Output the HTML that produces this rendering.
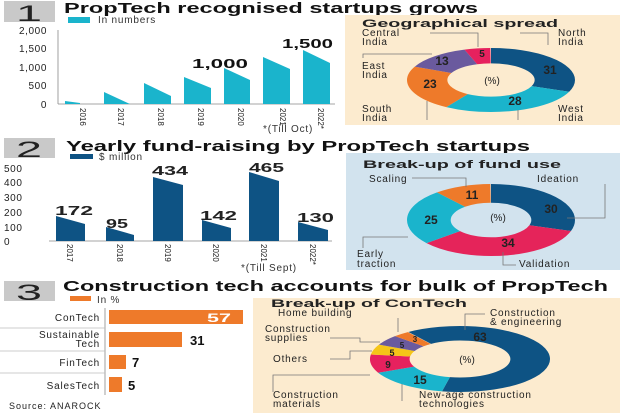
<!DOCTYPE html>
<html><head><meta charset="utf-8"><style>
html,body{margin:0;padding:0;background:#fff}
svg{display:block}
text{font-family:"Liberation Sans",sans-serif;fill:#222}
.t{font-weight:bold;font-size:15px;fill:#111}
.ax{font-size:10px;fill:#333;letter-spacing:0.6px}
.lb{font-size:10px;fill:#333;letter-spacing:0.8px}
.v{font-weight:bold;font-size:13px;fill:#111}
.dn{font-weight:bold;font-size:12px;fill:#fff}
.ln{stroke:#777;stroke-width:0.8;fill:none}
</style></head><body>
<svg width="620" height="413" viewBox="0 0 620 413" xmlns="http://www.w3.org/2000/svg">
<rect width="620" height="413" fill="#fff"/>

<!-- SECTION 1 -->
<rect x="4" y="1" width="51" height="21" fill="#c9c9c9"/>
<text x="16" y="21" font-size="22" fill="#222" textLength="26" lengthAdjust="spacingAndGlyphs">1</text>
<text class="t" x="64" y="13" textLength="414" lengthAdjust="spacingAndGlyphs">PropTech recognised startups grows</text>
<rect x="68" y="17" width="22" height="6" fill="#1ab4cc"/>
<text class="lb" x="98" y="23">In numbers</text>
<g class="ax" text-anchor="end">
<text x="47" y="34">2,000</text><text x="47" y="52">1,500</text><text x="47" y="71">1,000</text><text x="47" y="89">500</text><text x="47" y="108">0</text>
</g>
<line x1="58" y1="30" x2="58" y2="104" stroke="#888" stroke-width="0.8"/>
<line x1="58" y1="104" x2="335" y2="104" stroke="#888" stroke-width="0.8"/>
<g fill="#1ab4cc">
<polygon points="65,101 80,103 80,104 65,104"/>
<polygon points="104,92 130,104 104,104"/>
<polygon points="144,83 171,96 171,104 144,104"/>
<polygon points="184,77 211,88 211,104 184,104"/>
<polygon points="224,68 250,80 250,104 224,104"/>
<polygon points="263,57 290,69 290,104 263,104"/>
<polygon points="303,50 330,63 330,104 303,104"/>
</g>
<text class="v" x="192" y="68" textLength="56" lengthAdjust="spacingAndGlyphs">1,000</text>
<text class="v" x="282" y="48" textLength="51" lengthAdjust="spacingAndGlyphs">1,500</text>
<g font-size="8" fill="#333">
<text transform="translate(80,108) rotate(90)">2016</text>
<text transform="translate(118,108) rotate(90)">2017</text>
<text transform="translate(158,108) rotate(90)">2018</text>
<text transform="translate(198,108) rotate(90)">2019</text>
<text transform="translate(238,108) rotate(90)">2020</text>
<text transform="translate(280,108) rotate(90)">2021</text>
<text transform="translate(318,108) rotate(90)">2022*</text>
</g>
<text class="lb" x="263" y="132" font-size="9">*(Till Oct)</text>

<!-- panel 1 -->
<rect x="345" y="15" width="275" height="110" fill="#fcebcf"/>
<text x="362" y="27" font-weight="bold" font-size="11" fill="#111" textLength="196" lengthAdjust="spacingAndGlyphs">Geographical spread</text>
<g transform="translate(491,80) scale(0.84,0.32) rotate(-90)" fill="none" stroke-width="48">
<circle r="76" pathLength="100" stroke="#0e5384" stroke-dasharray="31 100" stroke-dashoffset="0"/>
<circle r="76" pathLength="100" stroke="#1ab4cc" stroke-dasharray="28 100" stroke-dashoffset="-31"/>
<circle r="76" pathLength="100" stroke="#ee7a2a" stroke-dasharray="23 100" stroke-dashoffset="-59"/>
<circle r="76" pathLength="100" stroke="#6a5a9e" stroke-dasharray="13 100" stroke-dashoffset="-82"/>
<circle r="76" pathLength="100" stroke="#e6215e" stroke-dasharray="5 100" stroke-dashoffset="-95"/>
</g>
<g class="dn" text-anchor="middle">
<text x="482" y="57" font-size="10">5</text><text x="550" y="74">31</text><text x="515" y="105">28</text><text x="430" y="88">23</text><text x="442" y="65">13</text>
</g>
<text x="492" y="84" font-size="10" text-anchor="middle" fill="#333">(%)</text>
<g class="lb">
<text x="362" y="36">Central</text><text x="362" y="45">India</text>
<text x="558" y="36">North</text><text x="558" y="45">India</text>
<text x="362" y="69">East</text><text x="362" y="78">India</text>
<text x="362" y="112">South</text><text x="362" y="121">India</text>
<text x="558" y="112">West</text><text x="558" y="121">India</text>
</g>
<path class="ln" d="M430,33 H478 V47 M520,33 H548 V45 M363,58 V54 H432 M427,120 V101 M518,120 V110"/>

<!-- SECTION 2 -->
<rect x="4" y="138" width="51" height="20" fill="#c9c9c9"/>
<text x="16" y="157" font-size="22" fill="#222" textLength="26" lengthAdjust="spacingAndGlyphs">2</text>
<text class="t" x="66" y="151" textLength="464" lengthAdjust="spacingAndGlyphs">Yearly fund-raising by PropTech startups</text>
<rect x="70" y="154" width="23" height="5" fill="#0e5384"/>
<text class="lb" x="99" y="160">$ million</text>
<g class="ax">
<text x="4" y="172">500</text><text x="4" y="186">400</text><text x="4" y="201">300</text><text x="4" y="216">200</text><text x="4" y="231">100</text><text x="4" y="245">0</text>
</g>
<line x1="49" y1="241" x2="332" y2="241" stroke="#888" stroke-width="0.8"/>
<g fill="#0e5384">
<polygon points="56,216 85,224 85,241 56,241"/>
<polygon points="106,227 134,235 134,241 106,241"/>
<polygon points="153,177 183,185 183,241 153,241"/>
<polygon points="202,220 231,228 231,241 202,241"/>
<polygon points="249,172 279,181 279,241 249,241"/>
<polygon points="298,222 328,230 328,241 298,241"/>
</g>
<g class="v">
<text x="55" y="215" textLength="38" lengthAdjust="spacingAndGlyphs">172</text>
<text x="106" y="228" textLength="22" lengthAdjust="spacingAndGlyphs">95</text>
<text x="152" y="175" textLength="36" lengthAdjust="spacingAndGlyphs">434</text>
<text x="200" y="220" textLength="37" lengthAdjust="spacingAndGlyphs">142</text>
<text x="249" y="172" textLength="35" lengthAdjust="spacingAndGlyphs">465</text>
<text x="297" y="222" textLength="37" lengthAdjust="spacingAndGlyphs">130</text>
</g>
<g font-size="8" fill="#333">
<text transform="translate(67,244) rotate(90)">2017</text>
<text transform="translate(117,244) rotate(90)">2018</text>
<text transform="translate(165,244) rotate(90)">2019</text>
<text transform="translate(213,244) rotate(90)">2020</text>
<text transform="translate(261,244) rotate(90)">2021</text>
<text transform="translate(310,244) rotate(90)">2022*</text>
</g>
<text class="lb" x="241" y="271" font-size="9">*(Till Sept)</text>

<!-- panel 2 -->
<rect x="346" y="153" width="274" height="117" fill="#d2e3ee"/>
<text x="363" y="168" font-weight="bold" font-size="11" fill="#111" textLength="198" lengthAdjust="spacingAndGlyphs">Break-up of fund use</text>
<g transform="translate(491,220) scale(0.84,0.36) rotate(-90)" fill="none" stroke-width="52">
<circle r="74" pathLength="100" stroke="#0e5384" stroke-dasharray="30 100" stroke-dashoffset="0"/>
<circle r="74" pathLength="100" stroke="#e5245a" stroke-dasharray="34 100" stroke-dashoffset="-30"/>
<circle r="74" pathLength="100" stroke="#1ab4cc" stroke-dasharray="25 100" stroke-dashoffset="-64"/>
<circle r="74" pathLength="100" stroke="#ee7a2a" stroke-dasharray="11 100" stroke-dashoffset="-89"/>
</g>
<g class="dn" text-anchor="middle">
<text x="472" y="199">11</text><text x="551" y="213">30</text><text x="431" y="224">25</text><text x="508" y="247">34</text>
</g>
<text x="498" y="221" font-size="10" text-anchor="middle" fill="#333">(%)</text>
<g class="lb">
<text x="369" y="182">Scaling</text>
<text x="537" y="182">Ideation</text>
<text x="357" y="257">Early</text><text x="357" y="267">traction</text>
<text x="519" y="267">Validation</text>
</g>
<path class="ln" d="M412,178 H466 V187 M605,184 V218 H567 M363,248 V237 H408 M503,252 V265 H516"/>

<!-- SECTION 3 -->
<rect x="4" y="281" width="51" height="20" fill="#c9c9c9"/>
<text x="16" y="300" font-size="22" fill="#222" textLength="26" lengthAdjust="spacingAndGlyphs">3</text>
<text class="t" x="63" y="291" textLength="545" lengthAdjust="spacingAndGlyphs">Construction tech accounts for bulk of PropTech</text>
<rect x="70" y="296" width="21" height="5" fill="#ee7a2a"/>
<text class="lb" x="97" y="303">In %</text>
<line x1="105" y1="308" x2="105" y2="395" stroke="#888" stroke-width="0.8"/>
<g stroke="#bbb" stroke-width="0.8">
<line x1="0" y1="328" x2="105" y2="328"/><line x1="0" y1="351" x2="105" y2="351"/><line x1="0" y1="373" x2="105" y2="373"/>
</g>
<g fill="#ee7a2a">
<rect x="109" y="310" width="134" height="14"/>
<rect x="109" y="332" width="73" height="15"/>
<rect x="109" y="355" width="17" height="14"/>
<rect x="109" y="377" width="13" height="15"/>
</g>
<g class="lb" text-anchor="end">
<text x="100" y="321">ConTech</text>
<text x="100" y="338">Sustainable</text><text x="100" y="347">Tech</text>
<text x="100" y="366">FinTech</text>
<text x="100" y="389">SalesTech</text>
</g>
<text class="dn" x="207" y="322" font-size="13" textLength="24" lengthAdjust="spacingAndGlyphs">57</text>
<text class="v" x="190" y="345">31</text>
<text class="v" x="132" y="367">7</text>
<text class="v" x="128" y="390">5</text>
<text x="9" y="409" font-size="9" fill="#666" letter-spacing="1">Source: ANAROCK</text>

<!-- panel 3 -->
<rect x="253" y="298" width="367" height="115" fill="#fcebcf"/>
<text x="271" y="307" font-weight="bold" font-size="11" fill="#111" textLength="196" lengthAdjust="spacingAndGlyphs">Break-up of ConTech</text>
<g transform="translate(460,359) scale(0.9,0.33) rotate(-125)" fill="none" stroke-width="44">
<circle r="78" pathLength="100" stroke="#0e5384" stroke-dasharray="63 100" stroke-dashoffset="0"/>
<circle r="78" pathLength="100" stroke="#1ab4cc" stroke-dasharray="15 100" stroke-dashoffset="-63"/>
<circle r="78" pathLength="100" stroke="#e6215e" stroke-dasharray="9 100" stroke-dashoffset="-78"/>
<circle r="78" pathLength="100" stroke="#f5c518" stroke-dasharray="5 100" stroke-dashoffset="-87"/>
<circle r="78" pathLength="100" stroke="#6a5a9e" stroke-dasharray="5 100" stroke-dashoffset="-92"/>
<circle r="78" pathLength="100" stroke="#ee7a2a" stroke-dasharray="3 100" stroke-dashoffset="-97"/>
</g>
<g class="dn" text-anchor="middle">
<text x="480" y="341">63</text><text x="420" y="384">15</text><text x="388" y="368" font-size="10">9</text>
<text x="392" y="356" font-size="9" fill="#222">5</text><text x="402" y="348" font-size="8">5</text><text x="415" y="342" font-size="8">3</text>
</g>
<text x="467" y="363" font-size="10" text-anchor="middle" fill="#333">(%)</text>
<g class="lb">
<text x="278" y="316">Home building</text>
<text x="490" y="316">Construction</text><text x="490" y="325">&amp; engineering</text>
<text x="265" y="332">Construction</text><text x="265" y="341">supplies</text>
<text x="273" y="362">Others</text>
<text x="273" y="398">Construction</text><text x="273" y="407">materials</text>
<text x="419" y="398">New-age construction</text><text x="419" y="407">technologies</text>
</g>
<path class="ln" d="M398,318 V332 M485,314 H465 V330 M330,338 H360 V342 H380 M330,359 H350 V351 H372 M273,392 V375 H370 M402,401 V384"/>
</svg>
</body></html>
